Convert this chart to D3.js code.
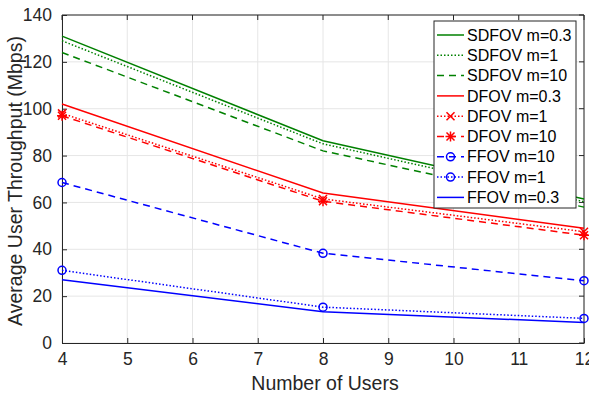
<!DOCTYPE html>
<html>
<head>
<meta charset="utf-8">
<script src="https://cdn.jsdelivr.net/npm/d3@7"></script>
<style>
  body { margin: 0; background: #fff; }
  text { font-family: "Liberation Sans", Arial, sans-serif; }
</style>
</head>
<body>
<div id="chart"></div>
<script>
// data
var users = [4, 8, 12];
var sdfov03 = [131, 86.3, 61.5];
var sdfov1 = [129, 85, 60.3];
var sdfov10 = [124, 82, 58];
var dfov03 = [102, 64, 49];
var dfov1 = [98, 61.5, 47.5];
var dfov10 = [97, 60.5, 46];
var ffov10 = [68.5, 38.3, 26.6];
var ffov1 = [31, 15.3, 10.5];
var ffov03 = [27, 13.3, 8.8];
var xTicks = [4, 5, 6, 7, 8, 9, 10, 11, 12];
var yTicks = [0, 20, 40, 60, 80, 100, 120, 140];

var series = [
  { name: 'SDFOV m=0.3', vals: sdfov03, color: '#008000', dash: null, marker: null },
  { name: 'SDFOV m=1', vals: sdfov1, color: '#008000', dash: '1.5,2', marker: null },
  { name: 'SDFOV m=10', vals: sdfov10, color: '#008000', dash: '7,5', marker: null },
  { name: 'DFOV m=0.3', vals: dfov03, color: '#ff0000', dash: null, marker: null },
  { name: 'DFOV m=1', vals: dfov1, color: '#ff0000', dash: '1.5,2', marker: 'x' },
  { name: 'DFOV m=10', vals: dfov10, color: '#ff0000', dash: '7,5', marker: '*' },
  { name: 'FFOV m=10', vals: ffov10, color: '#0000ff', dash: '7,5', marker: 'o' },
  { name: 'FFOV m=1', vals: ffov1, color: '#0000ff', dash: '1.5,2', marker: 'o' },
  { name: 'FFOV m=0.3', vals: ffov03, color: '#0000ff', dash: null, marker: null }
];

var W = 589, H = 394;
var pLeft = 62, pRight = 584, pTop = 15, pBottom = 343;

var svg = d3.select('#chart').append('svg')
  .attr('width', W).attr('height', H);

var x = d3.scaleLinear().domain([4, 12]).range([pLeft, pRight]);
var y = d3.scaleLinear().domain([0, 140]).range([pBottom, pTop]);

// grid
var grid = svg.append('g').attr('stroke', '#e6e6e6').attr('stroke-width', 1);
xTicks.forEach(t => {
  grid.append('line').attr('x1', x(t)).attr('x2', x(t)).attr('y1', pTop).attr('y2', pBottom);
});
yTicks.forEach(t => {
  grid.append('line').attr('x1', pLeft).attr('x2', pRight).attr('y1', y(t)).attr('y2', y(t));
});

// axes, ticks inward
var xAxis = svg.append('g')
  .attr('transform', 'translate(0,' + pBottom + ')')
  .call(d3.axisBottom(x).tickValues(xTicks).tickSizeInner(-5).tickSizeOuter(0).tickPadding(10));
var yAxis = svg.append('g')
  .attr('transform', 'translate(' + pLeft + ',0)')
  .call(d3.axisLeft(y).tickValues(yTicks).tickSizeInner(-5).tickSizeOuter(0).tickPadding(10));
[xAxis, yAxis].forEach(a => {
  a.selectAll('path, line').attr('stroke', '#262626');
  a.selectAll('text').attr('fill', '#262626').style('font-size', '17.5px')
    .style('font-family', '"Liberation Sans", Arial, sans-serif');
});
xAxis.selectAll('text').attr('dy', '0.71em');

// box top/right
svg.append('line').attr('x1', pLeft).attr('x2', pRight).attr('y1', pTop).attr('y2', pTop)
  .attr('stroke', '#262626');
svg.append('line').attr('x1', pRight).attr('x2', pRight).attr('y1', pTop).attr('y2', pBottom)
  .attr('stroke', '#262626');
yTicks.forEach(t => {
  svg.append('line').attr('x1', pRight - 5).attr('x2', pRight).attr('y1', y(t)).attr('y2', y(t))
    .attr('stroke', '#262626');
});
xTicks.forEach(t => {
  svg.append('line').attr('x1', x(t)).attr('x2', x(t)).attr('y1', pTop).attr('y2', pTop + 5)
    .attr('stroke', '#262626');
});

// axis titles
svg.append('text').attr('x', (pLeft + pRight) / 2 + 2).attr('y', 390)
  .attr('text-anchor', 'middle').attr('fill', '#262626').style('font-size', '19.5px')
  .text('Number of Users');
svg.append('text').attr('transform', 'translate(22,' + ((pTop + pBottom) / 2 + 2) + ') rotate(-90)')
  .attr('text-anchor', 'middle').attr('fill', '#262626').style('font-size', '19.5px')
  .text('Average User Throughput (Mbps)');

function drawMarker(g, type, cx, cy, color) {
  if (type === 'o') {
    g.append('circle').attr('cx', cx).attr('cy', cy).attr('r', 4)
      .attr('fill', 'none').attr('stroke', color).attr('stroke-width', 1.5);
  } else if (type === 'x' || type === '*') {
    var s = 4;
    g.append('path')
      .attr('d', `M${cx - s},${cy - s}L${cx + s},${cy + s}M${cx - s},${cy + s}L${cx + s},${cy - s}` +
        (type === '*' ? `M${cx - s - 1},${cy}L${cx + s + 1},${cy}M${cx},${cy - s - 1}L${cx},${cy + s + 1}` : ''))
      .attr('stroke', color).attr('stroke-width', 1.5).attr('fill', 'none');
  }
}

var line = d3.line().x((d, i) => x(users[i])).y(d => y(d));
var plot = svg.append('g');
series.forEach(s => {
  plot.append('path').datum(s.vals).attr('d', line)
    .attr('fill', 'none').attr('stroke', s.color).attr('stroke-width', 1.5)
    .attr('stroke-dasharray', s.dash);
  if (s.marker) s.vals.forEach((v, i) => drawMarker(plot, s.marker, x(users[i]), y(v), s.color));
});

// legend
var lg = svg.append('g');
var lx = 434, ly = 21, lw = 142, rowH = 20.3;
lg.append('rect').attr('x', lx).attr('y', ly).attr('width', lw).attr('height', 187)
  .attr('fill', '#fff').attr('stroke', '#262626').attr('stroke-width', 1);
series.forEach((s, i) => {
  var cy = ly + 14 + i * rowH;
  lg.append('line').attr('x1', lx + 3).attr('x2', lx + 30).attr('y1', cy).attr('y2', cy)
    .attr('stroke', s.color).attr('stroke-width', 1.5).attr('stroke-dasharray', s.dash);
  if (s.marker) drawMarker(lg, s.marker, lx + 16.5, cy, s.color);
  lg.append('text').attr('x', lx + 33).attr('y', cy).attr('dy', '0.35em')
    .attr('fill', '#000').style('font-size', '16px').text(s.name);
});
</script>
</body>
</html>
